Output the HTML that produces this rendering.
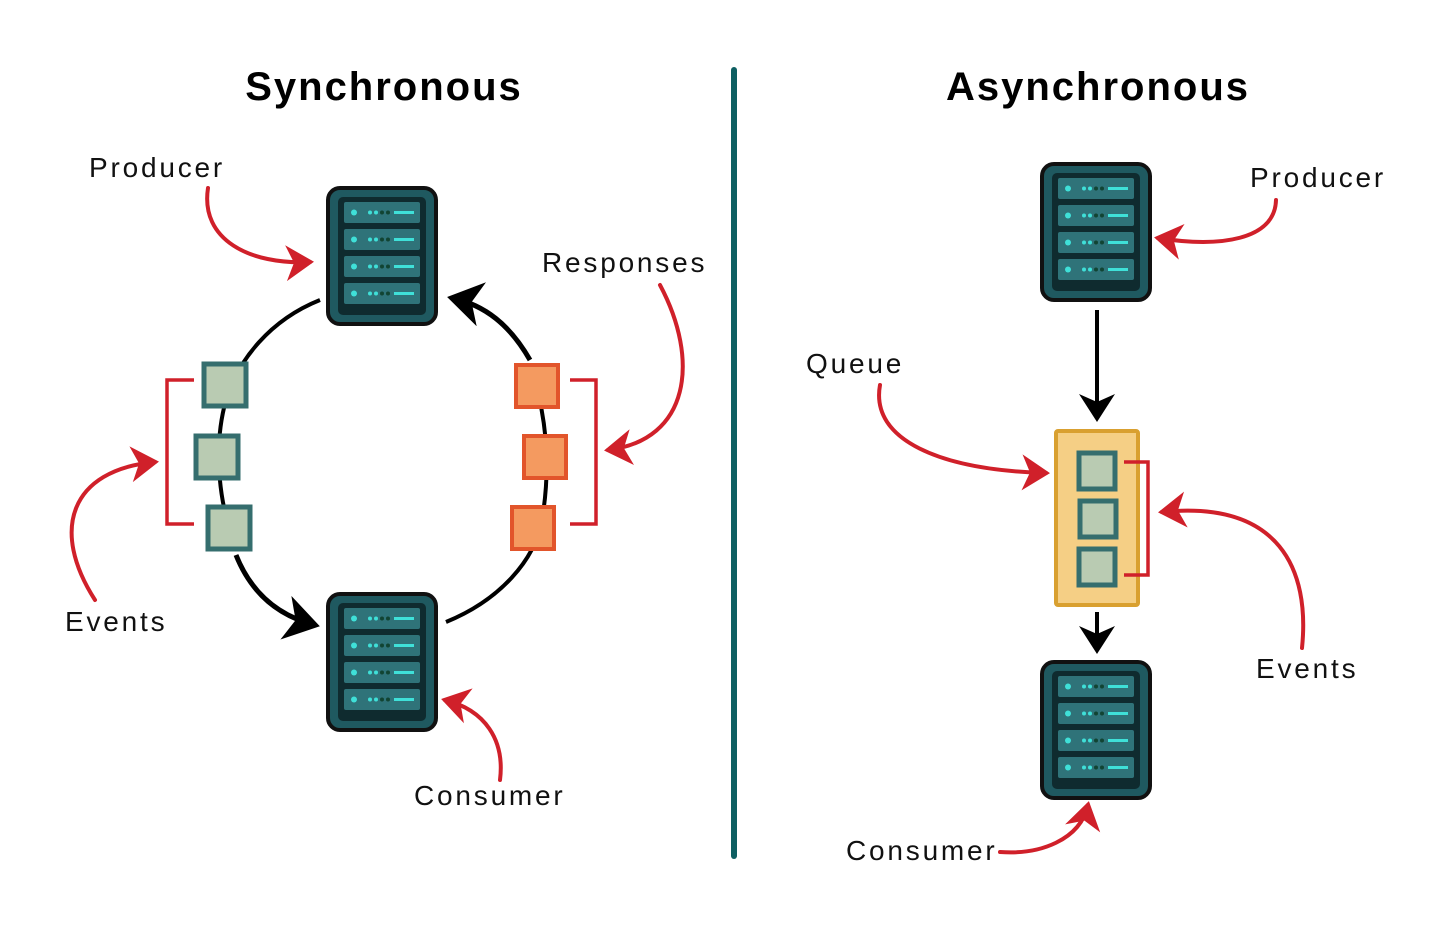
<!DOCTYPE html>
<html><head><style>body{margin:0;background:#fff}svg{display:block}</style></head><body>
<svg width="1456" height="927" viewBox="0 0 1456 927" xmlns="http://www.w3.org/2000/svg" font-family="Liberation Sans, sans-serif">
<defs>
<g id="srv">
<rect x="0" y="0" width="108" height="136" rx="12" fill="#1f5960" stroke="#111" stroke-width="4"/>
<rect x="10" y="9" width="88" height="118" rx="5" fill="#0f2b2f"/>
<g id="slot"><rect x="16" y="14" width="76" height="21" rx="2" fill="#2f7379"/><circle cx="26" cy="24.5" r="3" fill="#3fe0d8"/><circle cx="42" cy="24.5" r="2" fill="#3fe0d8"/><circle cx="48" cy="24.5" r="2" fill="#3fe0d8"/><circle cx="54" cy="24.5" r="2" fill="#143"/><circle cx="60" cy="24.5" r="2" fill="#143"/><rect x="66" y="23" width="20" height="3" fill="#3fe0d8"/></g>
<use href="#slot" y="27"/><use href="#slot" y="54"/><use href="#slot" y="81"/>
</g>
<marker id="ab" markerWidth="10" markerHeight="10" refX="6" refY="5" orient="auto" markerUnits="strokeWidth"><path d="M0,0.5 L7,5 L0,9.5 L2,5 Z" fill="#000"/></marker>
<marker id="ar" markerWidth="10" markerHeight="10" refX="6" refY="5" orient="auto" markerUnits="strokeWidth"><path d="M0,0.5 L7,5 L0,9.5 L2,5 Z" fill="#d0202a"/></marker>
</defs>
<text x="384" y="100" font-size="40" font-weight="bold" text-anchor="middle" letter-spacing="2">Synchronous</text>
<text x="1098" y="100" font-size="40" font-weight="bold" text-anchor="middle" letter-spacing="2">Asynchronous</text>
<line x1="734" y1="70" x2="734" y2="856" stroke="#0e5f62" stroke-width="6" stroke-linecap="round"/>
<g fill="none" stroke="#000" stroke-width="4">
<path d="M320 300 C 270 320 238 360 226 400 C 212 450 220 510 236 545"/>
<path d="M236 555 C 250 590 275 615 315 625" stroke-width="5" marker-end="url(#ab)"/>
<path d="M446 622 C 500 600 535 560 542 520 C 552 460 545 410 530 365"/>
<path d="M530 360 C 510 325 485 305 452 298" stroke-width="5" marker-end="url(#ab)"/>
<path d="M1097 310 L1097 418" stroke-width="4" marker-end="url(#ab)"/>
<path d="M1097 612 L1097 650" stroke-width="4" marker-end="url(#ab)"/>
</g>
<use href="#srv" x="328" y="188"/>
<use href="#srv" x="328" y="594"/>
<use href="#srv" x="1042" y="164"/>
<use href="#srv" x="1042" y="662"/>
<g stroke="#356e6e" stroke-width="5" fill="#b9cbb2">
<rect x="204" y="364" width="42" height="42"/><rect x="196" y="436" width="42" height="42"/><rect x="208" y="507" width="42" height="42"/>
</g>
<g stroke="#e2552b" stroke-width="4" fill="#f49a60">
<rect x="516" y="365" width="42" height="42"/><rect x="524" y="436" width="42" height="42"/><rect x="512" y="507" width="42" height="42"/>
</g>
<rect x="1056" y="431" width="82" height="174" rx="2" fill="#f5cf85" stroke="#d9a030" stroke-width="4"/>
<g stroke="#356e6e" stroke-width="5" fill="#b9cbb2">
<rect x="1079" y="453" width="36" height="36"/><rect x="1080" y="501" width="36" height="36"/><rect x="1079" y="549" width="36" height="36"/>
</g>
<g fill="none" stroke="#d0202a" stroke-width="3.5">
<path d="M194 380 H167 V524 H194"/>
<path d="M570 380 H596 V524 H570"/>
<path d="M1124 462 H1148 V575 H1124"/>
</g>
<g fill="none" stroke="#d0202a" stroke-width="4" stroke-linecap="round">
<path d="M208 188 C 200 240 250 265 310 262" marker-end="url(#ar)"/>
<path d="M660 285 C 700 360 690 440 608 450" marker-end="url(#ar)"/>
<path d="M95 600 C 50 530 70 470 155 462" marker-end="url(#ar)"/>
<path d="M500 780 C 505 740 485 710 445 700" marker-end="url(#ar)"/>
<path d="M1276 200 C 1275 240 1220 248 1158 238" marker-end="url(#ar)"/>
<path d="M880 385 C 870 440 940 470 1046 473" marker-end="url(#ar)"/>
<path d="M1302 648 C 1310 570 1280 500 1162 512" marker-end="url(#ar)"/>
<path d="M1000 852 C 1040 855 1080 840 1088 805" marker-end="url(#ar)"/>
</g>
<g font-size="28" fill="#111" letter-spacing="2.8">
<text x="89" y="177">Producer</text>
<text x="542" y="272">Responses</text>
<text x="65" y="631">Events</text>
<text x="414" y="805">Consumer</text>
<text x="1250" y="187">Producer</text>
<text x="806" y="373">Queue</text>
<text x="1256" y="678">Events</text>
<text x="846" y="860">Consumer</text>
</g>
</svg>
</body></html>
